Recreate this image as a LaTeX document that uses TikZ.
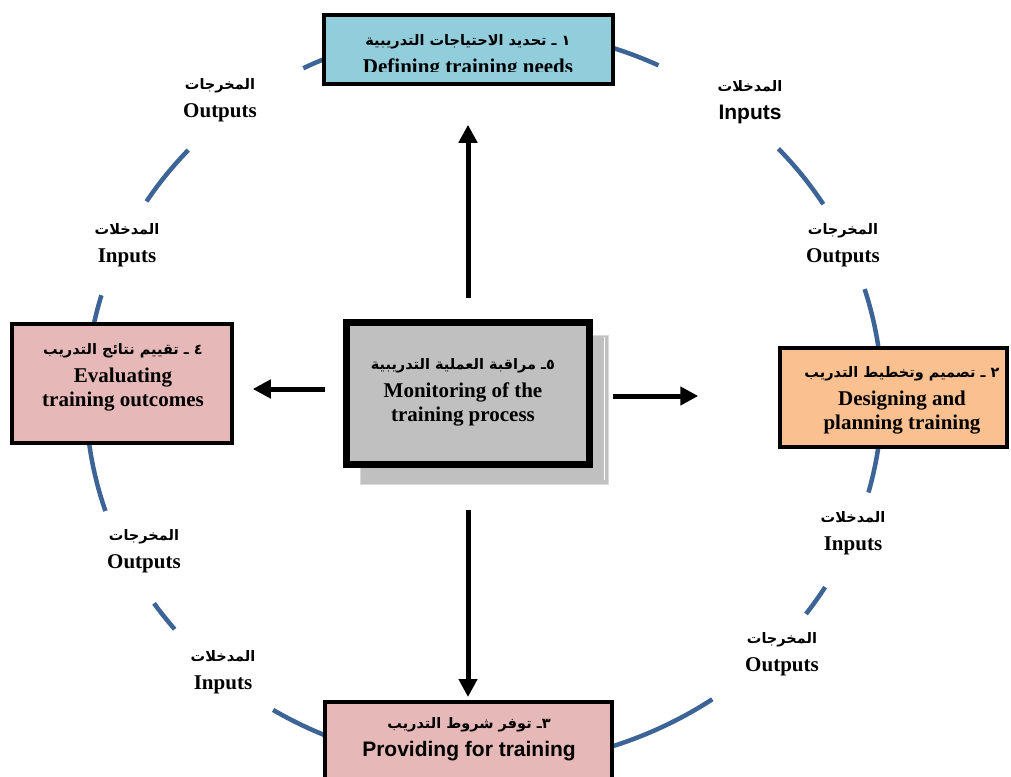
\documentclass[tikz,border=0pt]{standalone}
\usepackage{fontspec}
\setmainfont{Liberation Serif}
\newfontfamily\arialfont{Liberation Sans}
\newfontfamily\arabicfont[Script=Arabic]{DejaVu Sans}
\TeXXeTstate=1
\usetikzlibrary{arrows.meta}
\definecolor{ringcol}{RGB}{60,100,150}
\definecolor{needcol}{RGB}{146,205,220}
\definecolor{designcol}{RGB}{250,192,144}
\definecolor{pinkcol}{RGB}{230,185,184}
\definecolor{monicol}{RGB}{192,192,192}
\newcommand{\ar}[1]{{\arabicfont\bfseries\fontsize{14.5}{18}\selectfont\beginR #1\endR}}

\begin{document}
\begin{tikzpicture}[x=1pt,y=-1pt,
    box/.style={draw=black,line width=4pt,inner sep=0pt},
    txt/.style={align=center,font=\bfseries\fontsize{21}{24}\selectfont},
    flow/.style={-{Triangle[length=18pt,width=18pt]},line width=5pt},
    ring/.style={ringcol,line width=4.5pt}]
  \useasboundingbox (0,0) rectangle (1011,776);
  \coordinate (C) at (484,397);

  % the cycle, broken where the labels sit
  \foreach \s/\e in {31.5/42.3,64/117,138/148,164/198,214/219,238/305,324/329,345/377}
    \draw[ring]
      (C) ++(\s:398pt and 369pt) arc[start angle=\s,end angle=\e,x radius=398pt,y radius=369pt];

  % stages
  \node[box,fill=needcol,minimum width=288.5pt,minimum height=68.5pt]
    (needs) at (468.5,49.5) {};
  \node[box,fill=designcol,minimum width=226.5pt,minimum height=98.5pt]
    (design) at (893.5,397.5) {};
  \node[box,fill=pinkcol,minimum width=286.5pt,minimum height=100pt,anchor=north]
    (provide) at (468.5,700) {};
  \node[box,fill=pinkcol,minimum width=219.5pt,minimum height=118.5pt]
    (evaluate) at (122,383.5) {};

  \filldraw[fill=monicol,draw=black!15,line width=1pt]
    (360,335) rectangle (608,484);
  \draw[white,line width=1pt] (604,337) -- (604,480);
  \node[box,line width=7pt,fill=monicol,minimum width=243pt,minimum height=142pt]
    (monitor) at (468,393.5) {};

  \begin{scope}
    \clip (needs.north west) rectangle (needs.east |- 0,71.5);
    \node[txt] (needs-t) at (468,56)
      {\ar{١ ـ تحديد الاحتياجات التدريبية}\\[4pt]Defining training needs};
  \end{scope}
  \node[txt] (design-t) at (902,400)
    {\ar{٢ ـ تصميم وتخطيط التدريب}\\[4pt]Designing and\\planning training};
  \node[txt] (provide-t) at (469,739)
    {\ar{٣ـ توفر شروط التدريب}\\[4pt]{\arialfont Providing for training}};
  \node[txt] (evaluate-t) at (123,377)
    {\ar{٤ ـ تقييم نتائج التدريب}\\[4pt]Evaluating\\training outcomes};
  \node[txt] (monitor-t) at (463,392)
    {\ar{٥ـ مراقبة العملية التدريبية}\\[4pt]Monitoring of the\\training process};

  % inputs / outputs
  \node[txt] (out1) at (220,100) {\ar{المخرجات}\\[4pt]Outputs};
  \node[txt] (in1) at (127,245.5) {\ar{المدخلات}\\[4pt]Inputs};
  \node[txt] (in2) at (750,102) {\ar{المدخلات}\\[4pt]{\arialfont Inputs}};
  \node[txt] (out2) at (843,245) {\ar{المخرجات}\\[4pt]Outputs};
  \node[txt] (in3) at (853,533) {\ar{المدخلات}\\[4pt]Inputs};
  \node[txt] (out3) at (782,654) {\ar{المخرجات}\\[4pt]Outputs};
  \node[txt] (out4) at (144,551) {\ar{المخرجات}\\[4pt]Outputs};
  \node[txt] (in4) at (223,672) {\ar{المدخلات}\\[4pt]Inputs};

  % monitoring arrows
  \coordinate (ml) at ([yshift=4.5pt]monitor.west);
  \coordinate (mr) at ([yshift=-2.5pt]monitor.east);
  \draw[flow,shorten <=21pt,shorten >=39pt]
    (monitor.north) -- (monitor.north |- needs.south);
  \draw[flow,shorten <=42pt,shorten >=3pt]
    (monitor.south) -- (monitor.south |- provide.north);
  \draw[flow,shorten <=20pt,shorten >=80pt]
    (mr) -- (mr -| design.west);
  \draw[flow,shorten <=18pt,shorten >=19pt]
    (ml) -- (ml -| evaluate.east);
\end{tikzpicture}
\end{document}
